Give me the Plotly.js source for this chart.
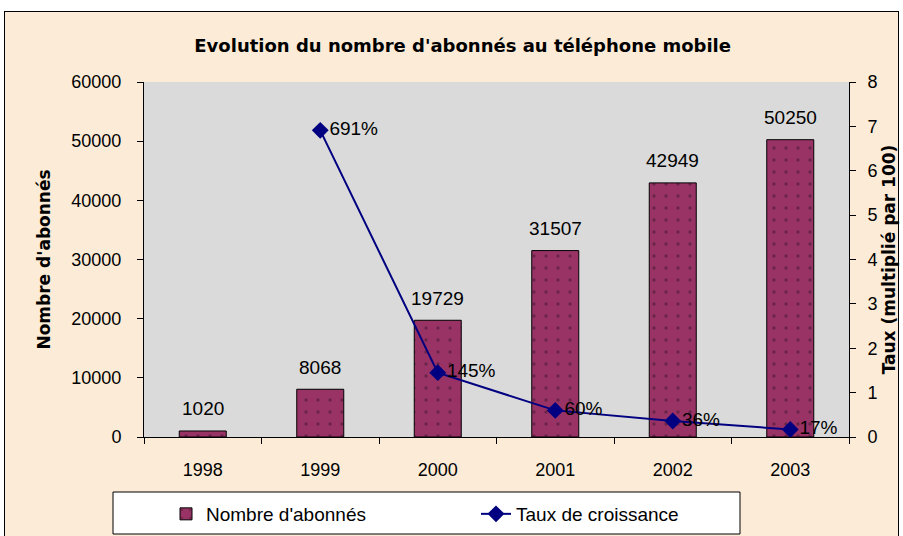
<!DOCTYPE html>
<html><head><meta charset="utf-8">
<script src="https://cdn.plot.ly/plotly-3.0.1.min.js"></script>
<style>
html,body{margin:0;padding:0;background:#ffffff;overflow:hidden;}
#frame{position:absolute;left:4px;top:11px;width:893px;height:540px;background:#fcecd7;border:1px solid #000;}
#chart{position:absolute;left:0;top:0;width:903px;height:536px;}
</style></head>
<body>
<div id="frame"></div>
<div id="chart"></div>
<script>
const years = ['1998','1999','2000','2001','2002','2003'];
const subscribers = [1020, 8068, 19729, 31507, 42949, 50250];
const rateYears = ['1999','2000','2001','2002','2003'];
const growthRate = [6.91, 1.45, 0.60, 0.36, 0.17];
const rateLabels = ['691%','145%','60%','36%','17%'];

const tickFont = {family: 'Liberation Sans, Arial, sans-serif', size: 18, color: '#000'};
const labelFont = {family: 'Liberation Sans, Arial, sans-serif', size: 19, color: '#000'};
const boldFont = {family: 'DejaVu Sans, sans-serif', size: 17, color: '#000', weight: 'bold'};

const traces = [
  {
    type: 'bar', name: "Nombre d'abonnés", x: years, y: subscribers,
    width: 0.4, legend: 'legend',
    marker: {color: '#993366', line: {color: '#000', width: 1},
             pattern: {shape: '.', fgcolor: '#6a2448', bgcolor: '#993366', size: 12, solidity: 0.06}},
    hoverinfo: 'x+y'
  },
  {
    type: 'scatter', mode: 'lines+markers+text', name: 'Taux de croissance',
    x: rateYears, y: growthRate, yaxis: 'y2', legend: 'legend2',
    line: {color: '#000080', width: 2},
    marker: {symbol: 'diamond', size: 13, color: '#000080'},
    text: rateLabels, textposition: 'middle right', cliponaxis: false,
    textfont: labelFont
  }
];

// value labels above the bars (x given as the category index of each year)
const barLabels = years.map((yr, i) => ({
  x: i, y: subscribers[i], xref: 'x', yref: 'y', text: String(subscribers[i]),
  showarrow: false, yanchor: 'middle', yshift: 22, font: labelFont
}));

const legendBase = {orientation: 'h', xanchor: 'left', xref: 'container', yref: 'container',
                    y: 1 - 495 / 536, yanchor: 'top', bgcolor: 'rgba(0,0,0,0)', borderwidth: 0,
                    font: labelFont};

const layout = {
  width: 903, height: 536,
  paper_bgcolor: 'rgba(0,0,0,0)',
  plot_bgcolor: '#dadada',
  margin: {l: 144, r: 54, t: 82, b: 99, autoexpand: false},
  title: {text: "Evolution du nombre d'abonnés au téléphone mobile",
          font: {family: 'DejaVu Sans, sans-serif', size: 18, color: '#000', weight: 'bold'},
          x: 0.452, xanchor: 'center', xref: 'paper', y: 0.915, yanchor: 'middle', yref: 'container'},
  showlegend: true,
  legend: Object.assign({}, legendBase, {x: 166 / 903}),
  legend2: Object.assign({}, legendBase, {x: 476 / 903}),
  annotations: barLabels,
  shapes: [{type: 'rect', xref: 'paper', yref: 'paper',
            x0: (113 - 144) / 705, x1: (740 - 144) / 705,
            y0: (437 - 534) / 355, y1: (437 - 492) / 355,
            fillcolor: '#ffffff', line: {color: '#000', width: 1}, layer: 'below'}],
  bargap: 0.6,
  xaxis: {type: 'category', range: [-0.5, 5.5], showgrid: false, zeroline: false,
          showline: true, linecolor: '#000', linewidth: 1,
          ticks: 'outside', ticklen: 6, tickcolor: '#000', tickson: 'boundaries',
          tickfont: tickFont, ticklabelstandoff: 16, fixedrange: true},
  yaxis: {range: [0, 60000], dtick: 10000, tickformat: 'd', showgrid: false, zeroline: false,
          showline: true, linecolor: '#000', linewidth: 1,
          ticks: 'outside', ticklen: 6, tickcolor: '#000',
          tickfont: tickFont, ticklabelstandoff: 12,
          title: {text: "Nombre d'abonnés", font: boldFont, standoff: 16}},
  yaxis2: {range: [0, 8], dtick: 1, overlaying: 'y', side: 'right', showgrid: false, zeroline: false,
           showline: true, linecolor: '#000', linewidth: 1,
           ticks: 'outside', ticklen: 6, tickcolor: '#000',
           tickfont: tickFont, ticklabelstandoff: 8,
           title: {text: 'Taux (multiplié par 100)', font: boldFont, standoff: 6}}
};

Plotly.newPlot('chart', traces, layout, {displayModeBar: false, staticPlot: true});
</script>
</body></html>
